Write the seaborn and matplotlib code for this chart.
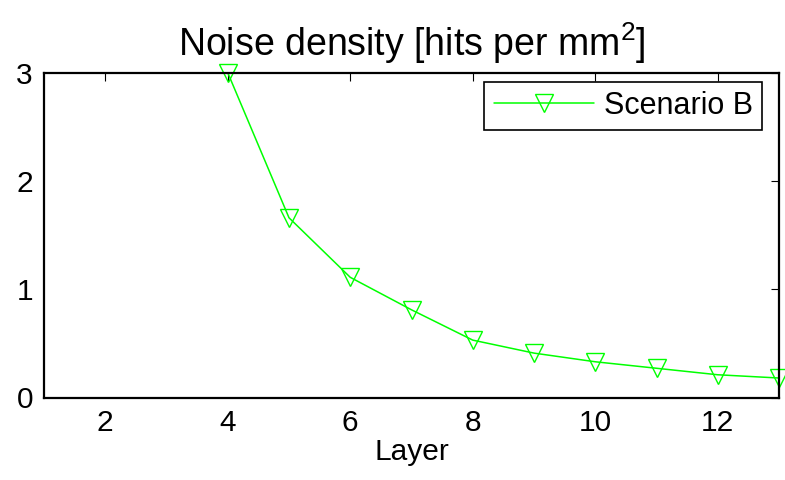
import matplotlib
matplotlib.use("Agg")
import matplotlib.pyplot as plt
import seaborn as sns
import pandas as pd

layers = [4, 5, 6, 7, 8, 9, 10, 11, 12, 13]
noise_b = [3.0, 1.66, 1.11, 0.81, 0.53, 0.41, 0.33, 0.27, 0.21, 0.18]
xticks = [2, 4, 6, 8, 10, 12]
yticks = [0, 1, 2, 3]
series_name = "Scenario B"

sns.set_style("white")
plt.rcParams['font.family'] = ['Liberation Sans', 'DejaVu Sans']
plt.rcParams['mathtext.fontset'] = 'custom'
plt.rcParams['mathtext.rm'] = 'Liberation Sans'
plt.rcParams['text.color'] = 'black'
plt.rcParams['axes.labelcolor'] = 'black'
plt.rcParams['xtick.color'] = 'black'
plt.rcParams['ytick.color'] = 'black'

df = pd.DataFrame({"Layer": layers, "Noise": noise_b, "series": series_name})

fig = plt.figure(figsize=(7.85, 4.8), dpi=100)
ax = fig.add_axes([44/785, 1 - 397.5/480, (779 - 44)/785, (397.5 - 72.7)/480])

sns.lineplot(data=df, x="Layer", y="Noise", hue="series", palette=["#00ff00"],
             marker="v", markersize=13, markerfacecolor="none",
             markeredgecolor="#00ff00", markeredgewidth=1.0,
             linewidth=1.1, ax=ax, clip_on=False)

ax.set_xlim(1, 13)
ax.set_ylim(0, 3)
ax.set_xticks(xticks)
ax.set_yticks(yticks)
ax.tick_params(direction="in", length=6, width=0.8, top=True, right=True,
               labelsize=21.5, pad=8, colors="black", labelcolor="black")
for s in ax.spines.values():
    s.set_visible(True)
    s.set_color("black")
    s.set_linewidth(1.6)
ax.set_xlabel("Layer", fontsize=21.5, labelpad=1, color="black")
ax.set_ylabel("")
ax.set_title("Noise density [hits per mm$^2$]", fontsize=27, pad=12, color="black")

leg = ax.legend(loc="upper right", bbox_to_anchor=(0.9765, 0.972), borderaxespad=0,
                fontsize=22, frameon=True, fancybox=False,
                edgecolor="black", handlelength=3.3,
                borderpad=0.3, handletextpad=0.3)
leg.get_frame().set_linewidth(1.2)
leg.get_frame().set_alpha(1)
for t in leg.get_texts():
    t.set_color("black")

fig.savefig("out.png", dpi=100)
